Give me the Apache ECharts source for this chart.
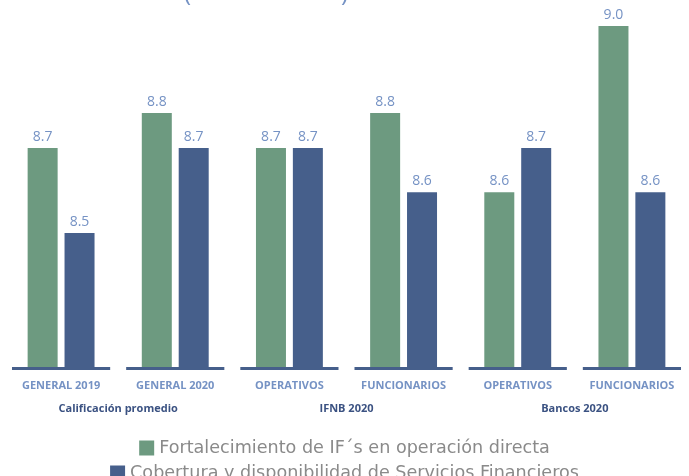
<!DOCTYPE html>
<html>
<head>
<meta charset="utf-8">
<script src="https://cdn.jsdelivr.net/npm/echarts@6/dist/echarts.min.js"></script>
<style>
  html, body { margin: 0; padding: 0; background: #fff; }
  #chart { width: 689px; height: 476px; }
</style>
</head>
<body>
<div id="chart"></div>
<script>
// categorías y grupos
const categories = ['GENERAL 2019', 'GENERAL 2020', 'OPERATIVOS', 'FUNCIONARIOS', 'OPERATIVOS', 'FUNCIONARIOS'];
const groups = ['Calificación promedio', 'IFNB 2020', 'Bancos 2020'];
const seriesNames = ['Fortalecimiento de IF´s en operación directa', 'Cobertura y disponibilidad de Servicios Financieros'];
const fortalecimiento = [8.705, 8.79, 8.705, 8.79, 8.598, 9.0];
const cobertura = [8.5, 8.705, 8.705, 8.598, 8.705, 8.598];

const yMin = 8.176, yMax = 9.0;
const green = '#6d9a80', blue = '#465f8b', labelBlue = '#7592c4';
const font = '"Open Sans", sans-serif';

let chart = echarts.init(document.getElementById('chart'));

// segmento de eje bajo cada categoría
function renderBase(params, api) {
  let p = api.coord([api.value(0), yMin]);
  let w = api.size([1, 0])[0];
  return {
    type: 'rect',
    shape: { x: p[0] - w * 0.43, y: p[1], width: w * 0.86, height: 3 },
    style: { fill: blue }
  };
}

let barLabel = {
  show: true, position: 'top', distance: 4,
  color: labelBlue, fontSize: 14, fontFamily: font,
  formatter: p => p.value.toFixed(1)
};

let legendText = { fontSize: 17.6, color: '#8a8a8a', fontFamily: '"DejaVu Sans", sans-serif' };

chart.setOption({
  animation: false,
  graphic: [
    { type: 'text', left: 184, top: -18, style: { text: '(', fontSize: 24, fill: labelBlue, fontFamily: font } },
    { type: 'text', left: 341, top: -18, style: { text: ')', fontSize: 24, fill: labelBlue, fontFamily: font } }
  ],
  grid: { left: 4, right: -2, top: 26, bottom: 109 },
  legend: [
    {
      data: [seriesNames[0]], left: 'center', top: 434,
      icon: 'rect', itemWidth: 15, itemHeight: 15, itemGap: 10,
      textStyle: legendText
    },
    {
      data: [seriesNames[1]], left: 'center', top: 459,
      icon: 'rect', itemWidth: 15, itemHeight: 15, itemGap: 10,
      textStyle: legendText
    }
  ],
  xAxis: [
    {
      type: 'category', data: categories,
      axisLine: { show: false }, axisTick: { show: false },
      axisLabel: { margin: 13, color: labelBlue, fontSize: 11, fontWeight: 'bold', fontFamily: font, interval: 0 }
    },
    {
      type: 'category', data: groups, position: 'bottom', offset: 23,
      axisLine: { show: false }, axisTick: { show: false },
      axisLabel: { margin: 13, color: '#3b5282', fontSize: 11, fontWeight: 'bold', fontFamily: font, interval: 0 }
    }
  ],
  yAxis: { type: 'value', min: yMin, max: yMax, show: false, splitLine: { show: false } },
  series: [
    {
      name: seriesNames[0], type: 'bar', data: fortalecimiento,
      barWidth: 30, barGap: '23%', itemStyle: { color: green }, label: barLabel
    },
    {
      name: seriesNames[1], type: 'bar', data: cobertura,
      barWidth: 30, barGap: '23%', itemStyle: { color: blue }, label: barLabel
    },
    {
      type: 'custom', renderItem: renderBase, z: 5,
      data: categories.map((c, i) => [i]), encode: { x: 0 }, silent: true
    }
  ]
});
</script>
</body>
</html>
